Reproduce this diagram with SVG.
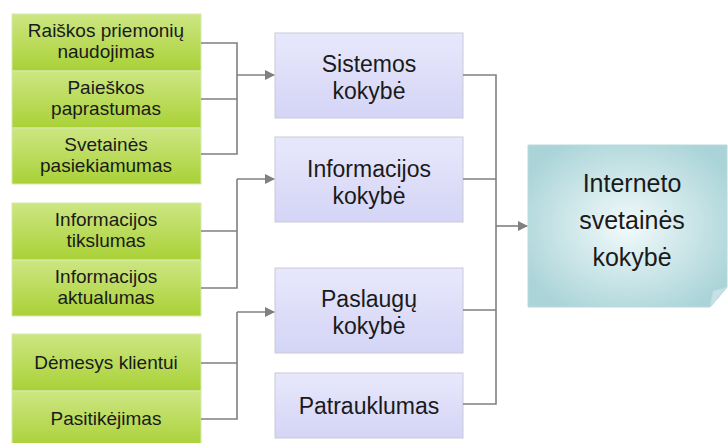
<svg xmlns="http://www.w3.org/2000/svg" width="728" height="443" viewBox="0 0 728 443">
<defs>
<linearGradient id="g" x1="0" y1="0" x2="0" y2="1">
<stop offset="0" stop-color="#cde683"/>
<stop offset="1" stop-color="#a9d136"/>
</linearGradient>
<linearGradient id="b" x1="0" y1="0" x2="0" y2="1">
<stop offset="0" stop-color="#e8e8fc"/>
<stop offset="1" stop-color="#d4d4f6"/>
</linearGradient>
<radialGradient id="t" cx="0.5" cy="0.5" r="0.6">
<stop offset="0" stop-color="#f2fafb"/>
<stop offset="1" stop-color="#aad4d8"/>
</radialGradient>
<marker id="arr" markerWidth="10" markerHeight="10" refX="9" refY="5" orient="auto" markerUnits="userSpaceOnUse">
<path d="M0,0 L10,5 L0,10 z" fill="#808080"/>
</marker>
</defs>
<style>
.gr{fill:url(#g);stroke:#d6eaa8;stroke-width:1}
.bl{fill:url(#b);stroke:#cacad6;stroke-width:1}
.c{fill:none;stroke:#808080;stroke-width:1.6}
text{font-family:"Liberation Sans",Arial,sans-serif;fill:#1a1a1a;text-anchor:middle}
.s{font-size:19px}
.m{font-size:23px}
.l{font-size:25px}
</style>
<rect width="728" height="443" fill="#ffffff"/>
<g id="raiskos"><rect class="gr" x="12" y="14" width="189" height="57"/><text class="s" x="106" y="37">Raiškos priemonių</text><text class="s" x="106" y="58">naudojimas</text></g>
<g id="paieskos"><rect class="gr" x="12" y="71" width="189" height="57"/><text class="s" x="106" y="94">Paieškos</text><text class="s" x="106" y="115">paprastumas</text></g>
<g id="svetaines"><rect class="gr" x="12" y="128" width="189" height="56"/><text class="s" x="106" y="151">Svetainės</text><text class="s" x="106" y="172">pasiekiamumas</text></g>
<g id="tikslumas"><rect class="gr" x="12" y="203" width="189" height="57"/><text class="s" x="106" y="226">Informacijos</text><text class="s" x="106" y="247">tikslumas</text></g>
<g id="aktualumas"><rect class="gr" x="12" y="260" width="189" height="56"/><text class="s" x="106" y="283">Informacijos</text><text class="s" x="106" y="304">aktualumas</text></g>
<g id="demesys"><rect class="gr" x="12" y="334" width="189" height="57"/><text class="s" x="106" y="369">Dėmesys klientui</text></g>
<g id="pasitikejimas"><rect class="gr" x="12" y="391" width="189" height="57"/><text class="s" x="106" y="425">Pasitikėjimas</text></g>
<g id="sistemos"><rect class="bl" x="275" y="33" width="188" height="85"/><text class="m" x="369" y="72">Sistemos</text><text class="m" x="369" y="99">kokybė</text></g>
<g id="informacijos"><rect class="bl" x="275" y="137" width="188" height="85"/><text class="m" x="369" y="177">Informacijos</text><text class="m" x="369" y="204">kokybė</text></g>
<g id="paslaugu"><rect class="bl" x="275" y="268" width="188" height="85"/><text class="m" x="369" y="307">Paslaugų</text><text class="m" x="369" y="334">kokybė</text></g>
<g id="patrauklumas"><rect class="bl" x="275" y="373" width="188" height="65"/><text class="m" x="369" y="414">Patrauklumas</text></g>
<g id="interneto"><path d="M528,145 H727 V287 L710,307 H528 Z" fill="url(#t)" stroke="#b8dade" stroke-width="1"/><path d="M710,307 L713,291 L727,287 Z" fill="#c6e2e6" stroke="#b8dade" stroke-width="1"/><text class="l" x="632" y="192">Interneto</text><text class="l" x="632" y="229">svetainės</text><text class="l" x="632" y="266">kokybė</text></g>
<g id="connectors">
<path class="c" d="M201,43 H237 V154 H201 M201,99 H237"/>
<path class="c" d="M237,75 H274" marker-end="url(#arr)"/>
<path class="c" d="M201,231 H237 M201,288 H237 V179"/>
<path class="c" d="M237,179 H274" marker-end="url(#arr)"/>
<path class="c" d="M201,363 H237 M201,419 H237 V312"/>
<path class="c" d="M237,312 H274" marker-end="url(#arr)"/>
<path class="c" d="M463,75 H496 V404 H463 M463,179 H496 M463,310 H496"/>
<path class="c" d="M496,226 H527" marker-end="url(#arr)"/>
</g>
</svg>
